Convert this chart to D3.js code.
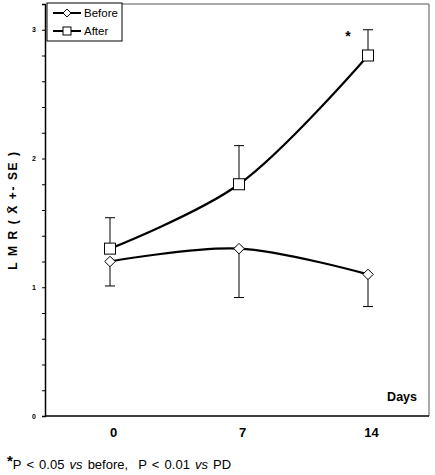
<!DOCTYPE html>
<html><head><meta charset="utf-8">
<script src="https://cdn.jsdelivr.net/npm/d3@7/dist/d3.min.js"></script>
<style>body{margin:0;background:#fff}svg{display:block}</style>
</head><body>
<svg id="c" width="435" height="475"></svg>
<script>
const days = ["0", "7", "14"];
const before = [1.2, 1.3, 1.1];
const beforeSE = [0.19, 0.38, 0.25];
const after = [1.3, 1.8, 2.8];
const afterSE = [0.24, 0.3, 0.2];
const yTicks = [0, 1, 2, 3];

const svg = d3.select("#c");
const FF = "Arial, Liberation Sans, sans-serif";
const pL = 45, pR = 429, pT = 4, pB = 416;
const x = d3.scalePoint().domain(days).range([110, 368]);
const y = d3.scaleLinear().domain([0, 3.2]).range([pB, pT]);

// frame
svg.append("line").attr("x1", 122).attr("x2", pR).attr("y1", pT).attr("y2", pT).attr("stroke", "#555").attr("stroke-width", 1);
svg.append("line").attr("x1", pR).attr("x2", pR).attr("y1", pT).attr("y2", pB).attr("stroke", "#555").attr("stroke-width", 1);

// y axis
const ya = svg.append("g").attr("transform", `translate(${pL},0)`)
  .call(d3.axisLeft(y).tickValues(d3.range(0, 3.21, 0.2)).tickSize(3).tickFormat(""));
ya.select(".domain").attr("stroke", "#000").attr("stroke-width", 1.5);
ya.selectAll(".tick line").attr("stroke", "#000");
svg.selectAll(".ylab").data(yTicks).enter().append("text")
  .attr("x", 34).attr("y", d => y(d) + 2.5).attr("text-anchor", "middle")
  .attr("font-family", FF).attr("font-size", 7).attr("font-weight", "bold")
  .text(d => d);

// x axis
const xa = svg.append("g").attr("transform", `translate(0,${pB})`)
  .call(d3.axisBottom(x).tickSize(0).tickPadding(12));
xa.select(".domain").attr("d", `M${pL},0H${pR}`).attr("stroke", "#000").attr("stroke-width", 1.5);
xa.selectAll(".tick text").attr("font-family", FF).attr("font-size", 13).attr("font-weight", "bold").attr("dx", 3);

svg.append("text").attr("x", 417).attr("y", 401).attr("text-anchor", "end")
  .attr("font-family", FF).attr("font-size", 12.5).attr("font-weight", "bold").text("Days");

// y label
const yl = svg.append("text").attr("transform", "translate(17,210) rotate(-90)").attr("text-anchor", "middle")
  .attr("font-family", FF).attr("font-size", 12).attr("font-weight", "bold")
  .attr("letter-spacing", 1.6)
  .text("L M R ( X\u0304 +- SE )");

// error bars
function ebars(vals, se, dir) {
  const g = svg.append("g").attr("stroke", "#000").attr("stroke-width", 1);
  vals.forEach((v, i) => {
    const cx = x(days[i]);
    const e = v + dir * se[i];
    g.append("line").attr("x1", cx).attr("x2", cx).attr("y1", y(v)).attr("y2", y(e));
    g.append("line").attr("x1", cx - 5).attr("x2", cx + 5).attr("y1", y(e)).attr("y2", y(e));
  });
}
ebars(before, beforeSE, -1);
ebars(after, afterSE, 1);

// lines
const line = d3.line().x((d, i) => x(days[i])).y(d => y(d)).curve(d3.curveCatmullRom.alpha(0.5));
svg.append("path").attr("d", line(before)).attr("fill", "none").attr("stroke", "#000").attr("stroke-width", 2.2);
svg.append("path").attr("d", line(after)).attr("fill", "none").attr("stroke", "#000").attr("stroke-width", 2.2);

// markers
const diamond = d3.symbol().type(d3.symbolDiamond2).size(70);
svg.selectAll(".dm").data(before).enter().append("path")
  .attr("d", diamond).attr("transform", (d, i) => `translate(${x(days[i])},${y(d)})`)
  .attr("fill", "#fff").attr("stroke", "#000").attr("stroke-width", 1);
svg.selectAll(".sq").data(after).enter().append("rect")
  .attr("x", (d, i) => x(days[i]) - 5.5).attr("y", d => y(d) - 5.5).attr("width", 11).attr("height", 11)
  .attr("fill", "#fff").attr("stroke", "#000").attr("stroke-width", 1);

// asterisk
svg.append("text").attr("x", 348).attr("y", 41).attr("text-anchor", "middle")
  .attr("font-family", FF).attr("font-size", 14).attr("font-weight", "bold").text("*");

// legend
const lg = svg.append("g");
lg.append("rect").attr("x", 47).attr("y", 3).attr("width", 75).attr("height", 38).attr("fill", "#fff").attr("stroke", "#000").attr("stroke-width", 1);
const items = [{name: "Before", t: "d"}, {name: "After", t: "s"}];
items.forEach((it, i) => {
  const yy = 13 + i * 18;
  lg.append("line").attr("x1", 53).attr("x2", 81).attr("y1", yy).attr("y2", yy).attr("stroke", "#000").attr("stroke-width", 2);
  if (it.t === "d") {
    lg.append("path").attr("d", d3.symbol().type(d3.symbolDiamond2).size(40)).attr("transform", `translate(67,${yy})`)
      .attr("fill", "#fff").attr("stroke", "#000");
  } else {
    lg.append("rect").attr("x", 63).attr("y", yy - 4).attr("width", 8).attr("height", 8).attr("fill", "#fff").attr("stroke", "#000");
  }
  lg.append("text").attr("x", 84).attr("y", yy + 4).attr("font-family", FF).attr("font-size", 11.5).text(it.name);
});

// footnote
const fn = svg.append("text").attr("x", 7).attr("y", 469).attr("font-family", FF).attr("font-size", 13)
  .attr("word-spacing", 1.5).attr("xml:space", "preserve").style("white-space", "pre");
fn.append("tspan").attr("font-weight", "bold").attr("font-size", 15).attr("dy", -3).text("*");
fn.append("tspan").attr("dy", 3).text("P < 0.05 ");
fn.append("tspan").attr("font-style", "italic").text("vs");
fn.append("tspan").text(" before,  P < 0.01 ");
fn.append("tspan").attr("font-style", "italic").text("vs");
fn.append("tspan").text(" PD");
</script>
</body></html>
